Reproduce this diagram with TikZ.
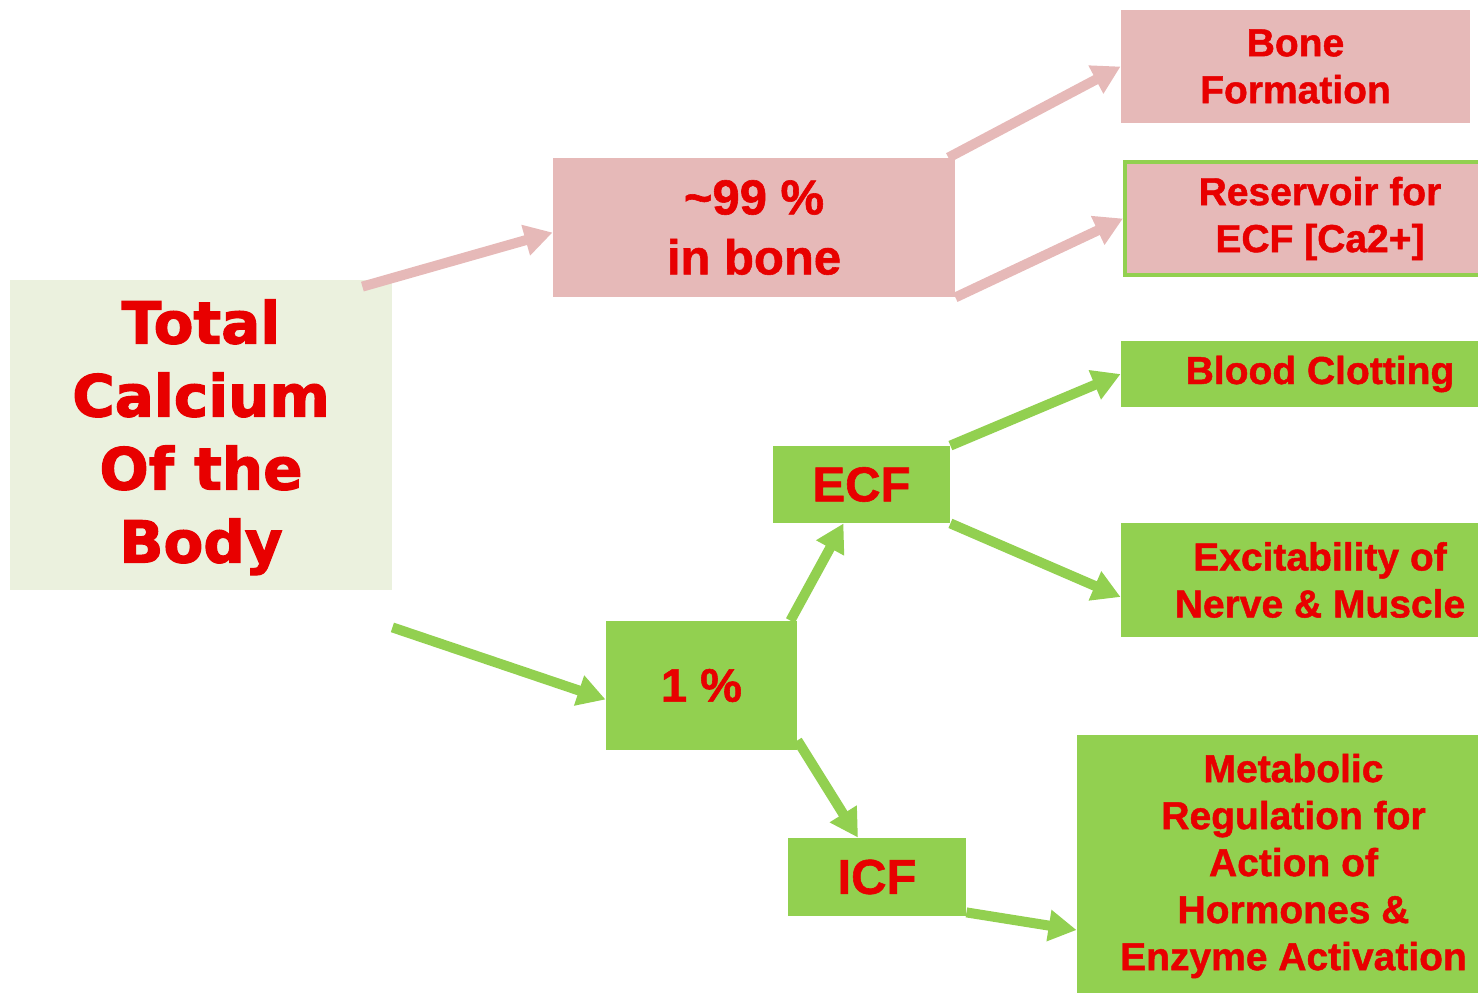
\documentclass[tikz,border=0pt]{standalone}
\usepackage{fontspec}
\setmainfont{Liberation Sans}[BoldFeatures={FakeBold=1.2}]
\newfontfamily\heavyfont{DejaVu Sans}[BoldFeatures={FakeBold=2}]
\usetikzlibrary{arrows.meta}
\definecolor{PinkBox}{HTML}{E6B9B8}
\definecolor{GreenBox}{HTML}{92D050}
\definecolor{PaleBox}{HTML}{EBF1DE}
\definecolor{TextRed}{HTML}{E80000}

\begin{document}
\begin{tikzpicture}[x=0.5pt,y=-0.5pt,
  box/.style={inner sep=0pt,align=center,text=TextRed,font=\bfseries\fontsize{19.5}{23.5}\selectfont},
  pinkbox/.style={box,fill=PinkBox},
  greenbox/.style={box,fill=GreenBox},
  pinkarrow/.style={->,>={Triangle[length=14pt,width=15pt]},line width=5pt,draw=PinkBox},
  greenarrow/.style={pinkarrow,draw=GreenBox}]
\clip (0,0) rectangle (1478,992);

\node[box,fill=PaleBox,minimum width=191pt,minimum height=155pt,text depth=4pt,font=\heavyfont\bfseries\fontsize{29}{36.5}\selectfont] (total) at (201,435) {Total\\Calcium\\Of the\\Body};
\node[pinkbox,minimum width=201pt,minimum height=69.5pt,font=\bfseries\fontsize{24.5}{30}\selectfont] (bone) at (754,227.5) {\textasciitilde99 \%\\in bone};
\node[greenbox,minimum width=95.5pt,minimum height=64.5pt,font=\bfseries\fontsize{23.5}{28}\selectfont] (one) at (701.5,685.5) {1 \%};
\node[greenbox,minimum width=88.5pt,minimum height=38.5pt,font=\bfseries\fontsize{24.5}{28}\selectfont] (ecf) at (861.5,484.5) {ECF};
\node[greenbox,minimum width=89pt,minimum height=39pt,font=\bfseries\fontsize{24.5}{28}\selectfont] (icf) at (877,877) {ICF};

\node[pinkbox,minimum width=174.5pt,minimum height=56.5pt] (form) at (1295.5,66.5) {Bone\\Formation};
\node[pinkbox,draw=GreenBox,line width=2pt,minimum width=195pt,minimum height=56.5pt] (res) at (1320,218.5) {Reservoir for\\ECF [Ca2+]};
\node[greenbox,minimum width=199pt,minimum height=33pt] (clot) at (1320,374) {Blood Clotting};
\node[greenbox,minimum width=199pt,minimum height=57pt] (excit) at (1320,580) {Excitability of\\Nerve \& Muscle};
\node[greenbox,minimum width=216.5pt,minimum height=131pt] (meta) at (1293.5,866) {Metabolic\\Regulation for\\Action of\\Hormones \&\\Enzyme Activation};

\draw[pinkarrow] ([xshift=-15pt,yshift=-3.5pt]total.north east) -- ([yshift=-2.5pt]bone.west);
\draw[pinkarrow] ([xshift=-3.5pt]bone.north east) -- (form.west);
\draw[pinkarrow] (bone.south east) -- (res.west);

\draw[greenarrow] ([yshift=-18.5pt]total.south east) -- ([yshift=-7pt]one.west);
\draw[greenarrow] ([xshift=-3.5pt]one.north east) -- ([xshift=-9pt]ecf.south);
\draw[greenarrow] ([yshift=5pt]one.south east) -- ([xshift=-9.5pt]icf.north);
\draw[greenarrow] (ecf.north east) -- (clot.west);
\draw[greenarrow] (ecf.south east) -- ([yshift=-8.5pt]excit.west);
\draw[greenarrow] ([yshift=2pt]icf.south east) -- ([yshift=-32pt]meta.west);
\end{tikzpicture}
\end{document}
